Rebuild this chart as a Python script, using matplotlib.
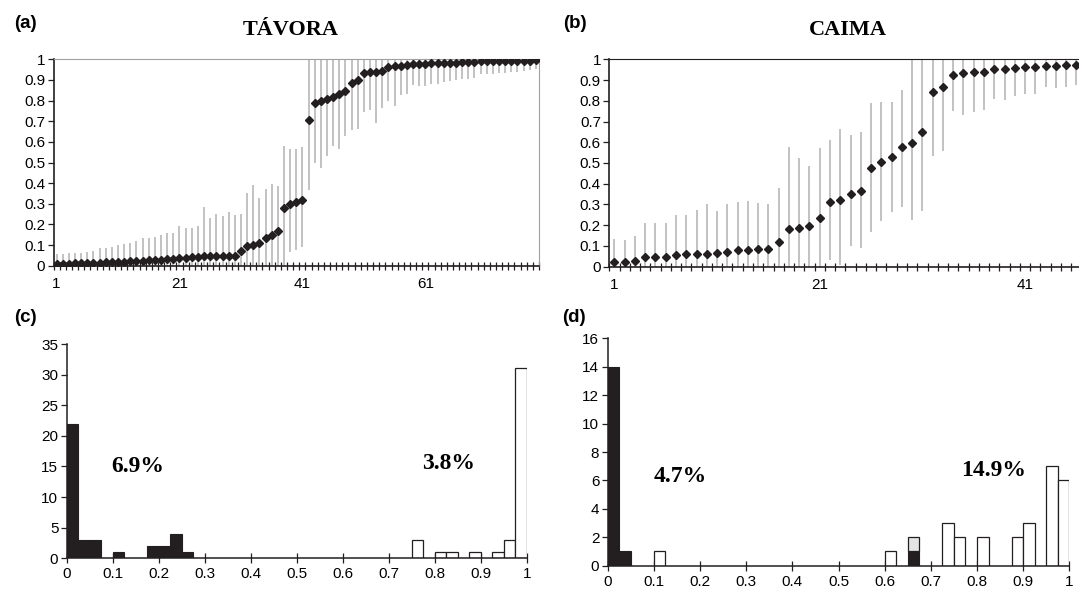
import numpy as np
import matplotlib
matplotlib.use("Agg")
import matplotlib.pyplot as plt

# ---- data ----
tavora_mean = [0.010, 0.010, 0.010, 0.011, 0.011, 0.012, 0.013, 0.015, 0.016, 0.017,
               0.019, 0.020, 0.021, 0.023, 0.025, 0.026, 0.028, 0.030, 0.032, 0.034,
               0.036, 0.037, 0.040, 0.044, 0.045, 0.045, 0.046, 0.046, 0.047, 0.048,
               0.070, 0.094, 0.100, 0.108, 0.132, 0.150, 0.170, 0.280, 0.298, 0.307,
               0.316, 0.707, 0.788, 0.800, 0.808, 0.815, 0.833, 0.845, 0.885, 0.900,
               0.933, 0.937, 0.940, 0.943, 0.961, 0.966, 0.969, 0.974, 0.979, 0.979,
               0.979, 0.980, 0.982, 0.982, 0.983, 0.983, 0.985, 0.985, 0.985, 0.990,
               0.990, 0.990, 0.990, 0.990, 0.992, 0.993, 0.993, 0.993, 0.995]
tavora_upper = [0.058, 0.055, 0.060, 0.063, 0.063, 0.068, 0.070, 0.085, 0.088, 0.090,
                0.100, 0.105, 0.108, 0.118, 0.135, 0.135, 0.140, 0.150, 0.158, 0.160,
                0.190, 0.185, 0.185, 0.190, 0.282, 0.232, 0.250, 0.240, 0.260, 0.247,
                0.250, 0.350, 0.390, 0.330, 0.370, 0.398, 0.385, 0.578, 0.565, 0.565,
                0.575] + [1.0] * 38
tavora_lower = [0.0] * 38 + [0.066, 0.078, 0.090,
                0.368, 0.500, 0.473, 0.533, 0.578, 0.565, 0.630, 0.659, 0.662,
                0.745, 0.752, 0.690, 0.766, 0.800, 0.772, 0.828, 0.833, 0.877, 0.872,
                0.872, 0.880, 0.882, 0.890, 0.893, 0.900, 0.905, 0.905, 0.909, 0.930,
                0.930, 0.930, 0.935, 0.935, 0.937, 0.940, 0.943, 0.950, 0.953]

caima_mean = [0.024, 0.024, 0.029, 0.045, 0.045, 0.048, 0.056, 0.061, 0.061, 0.063,
              0.065, 0.073, 0.079, 0.082, 0.087, 0.087, 0.121, 0.184, 0.189, 0.194,
              0.235, 0.312, 0.323, 0.350, 0.365, 0.477, 0.506, 0.527, 0.578, 0.597,
              0.650, 0.840, 0.867, 0.925, 0.933, 0.937, 0.940, 0.953, 0.953, 0.959,
              0.962, 0.962, 0.969, 0.969, 0.971, 0.973]
caima_upper = [0.132, 0.130, 0.148, 0.21, 0.21, 0.21, 0.25, 0.25, 0.274, 0.30,
               0.27, 0.30, 0.31, 0.315, 0.305, 0.30, 0.378, 0.576, 0.525, 0.485,
               0.571, 0.61, 0.662, 0.633, 0.648, 0.788, 0.795, 0.795, 0.85] + [1.0] * 17
caima_lower = [0.0] * 21 + [0.03, 0.007, 0.098, 0.09, 0.165, 0.218, 0.262, 0.29, 0.224,
               0.27, 0.535, 0.559, 0.749, 0.733, 0.747, 0.756, 0.809, 0.805, 0.824,
               0.833, 0.833, 0.868, 0.862, 0.868, 0.878]

# histograms: left edge of each 0.025-wide bin and its count
tav_black_bins = [0.0, 0.025, 0.05, 0.1, 0.175, 0.2, 0.225, 0.25]
tav_black_counts = [22, 3, 3, 1, 2, 2, 4, 1]
tav_white_bins = [0.75, 0.8, 0.825, 0.875, 0.925, 0.95, 0.975]
tav_white_counts = [3, 1, 1, 1, 1, 3, 31]

cai_black_bins = [0.0, 0.025, 0.65]
cai_black_counts = [14, 1, 1]
cai_white_bins = [0.1, 0.6, 0.725, 0.75, 0.8, 0.875, 0.9, 0.95, 0.975]
cai_white_counts = [1, 1, 3, 2, 2, 2, 3, 7, 6]
cai_mixed_bins = [0.65]
cai_mixed_counts = [1]   # grey part stacked on the black one

W, H = 1079, 589
BIN = 0.025
SANS = "Liberation Sans"
SERIF = "Liberation Serif"
DARK = "#231f20"

plt.rcParams["font.family"] = SANS
plt.rcParams["font.size"] = 11

fig = plt.figure(figsize=(W / 100, H / 100), dpi=100)


def px_axes(l, t, r, b):
    return fig.add_axes([l / W, 1 - b / H, (r - l) / W, (b - t) / H])


def prob_panel(ax, mean, lower, upper, labels, topcol):
    n = len(mean)
    x = np.arange(1, n + 1)
    ax.vlines(x, lower, upper, color="#bdbdbd", lw=1.3, zorder=2)
    ax.plot(x, mean, ls="none", marker="D", ms=3.6, color=DARK, zorder=3)
    ax.set_xlim(0.5, n + 0.5)
    ax.set_ylim(0, 1)
    yt = np.round(np.arange(0, 1.01, 0.1), 1)
    ax.set_yticks(yt)
    ax.set_yticklabels(["0"] + ["%.1f" % v for v in yt[1:-1]] + ["1"])
    ax.set_xticks(labels)
    ax.set_xticklabels([str(v) for v in labels])
    ax.set_xticks(np.arange(0.5, n + 1.0, 1.0), minor=True)
    ax.tick_params(axis="x", which="major", length=0, pad=8)
    ax.tick_params(axis="x", which="minor", direction="inout", length=6, width=0.9, color=DARK)
    ax.tick_params(axis="y", direction="out", length=4, width=0.9, color=DARK, pad=2)
    for s in ["left", "bottom"]:
        ax.spines[s].set_color(DARK)
        ax.spines[s].set_linewidth(1.2)
    ax.spines["top"].set_color(topcol)
    ax.spines["right"].set_color("#a0a0a0")


def hist_panel(ax, bb, bc, wb, wc, ymax, ystep):
    ax.bar(bb, bc, width=BIN, align="edge", color=DARK, edgecolor=DARK, lw=0.8, zorder=2)
    ax.bar(wb, wc, width=BIN, align="edge", color="white", edgecolor=DARK, lw=0.9, zorder=2)
    ax.set_xlim(0, 1)
    ax.set_ylim(0, ymax)
    xt = np.round(np.arange(0, 1.01, 0.1), 1)
    ax.set_xticks(xt)
    ax.set_xticklabels(["0"] + ["%.1f" % v for v in xt[1:-1]] + ["1"])
    ax.set_yticks(np.arange(0, ymax + 1, ystep))
    ax.tick_params(axis="x", direction="inout", length=7, width=0.9, color=DARK, pad=3)
    ax.tick_params(axis="y", direction="out", length=4, width=0.9, color=DARK, pad=2)
    for s in ["top", "right"]:
        ax.spines[s].set_visible(False)
    for s in ["left", "bottom"]:
        ax.spines[s].set_color(DARK)
        ax.spines[s].set_linewidth(1.1)


# (a) TAVORA
ax_a = px_axes(53.5, 59.3, 539, 265.7)
prob_panel(ax_a, tavora_mean, tavora_lower, tavora_upper, [1, 21, 41, 61], "#a0a0a0")

# (b) CAIMA (runs past the right edge, as in the source)
ax_b = px_axes(609.3, 59.3, 1081.5, 266.7)
prob_panel(ax_b, caima_mean, caima_lower, caima_upper, [1, 21, 41], DARK)

# (c)
ax_c = px_axes(66.7, 344, 527, 558.3)
hist_panel(ax_c, tav_black_bins, tav_black_counts, tav_white_bins, tav_white_counts, 35, 5)
ax_c.text(0.155, 15, "6.9%", family=SERIF, weight="bold", fontsize=17, ha="center", va="center")
ax_c.text(0.83, 15.5, "3.8%", family=SERIF, weight="bold", fontsize=17, ha="center", va="center")

# (d)
ax_d = px_axes(607.7, 338.3, 1069.3, 565.7)
hist_panel(ax_d, cai_black_bins, cai_black_counts, cai_white_bins, cai_white_counts, 16, 2)
ax_d.bar(cai_mixed_bins, cai_mixed_counts, width=BIN, align="edge", bottom=cai_black_counts[-1],
         color="#e4e4e4", edgecolor=DARK, lw=0.9, zorder=2)
ax_d.text(0.158, 6.3, "4.7%", family=SERIF, weight="bold", fontsize=17, ha="center", va="center")
ax_d.text(0.836, 6.7, "14.9%", family=SERIF, weight="bold", fontsize=17, ha="center", va="center")

# titles and panel letters
fig.text(291 / W, 1 - 30 / H, "TÁVORA", family=SERIF, weight="bold", fontsize=16, ha="center", va="center")
fig.text(848 / W, 1 - 30 / H, "CAIMA", family=SERIF, weight="bold", fontsize=16, ha="center", va="center")
for lab, xx, yy in [("(a)", 25, 24), ("(b)", 575, 24), ("(c)", 25, 318), ("(d)", 574, 317)]:
    fig.text(xx / W, 1 - yy / H, lab, weight="bold", fontsize=13.5, ha="center", va="center")

fig.savefig("out.png", dpi=100)
